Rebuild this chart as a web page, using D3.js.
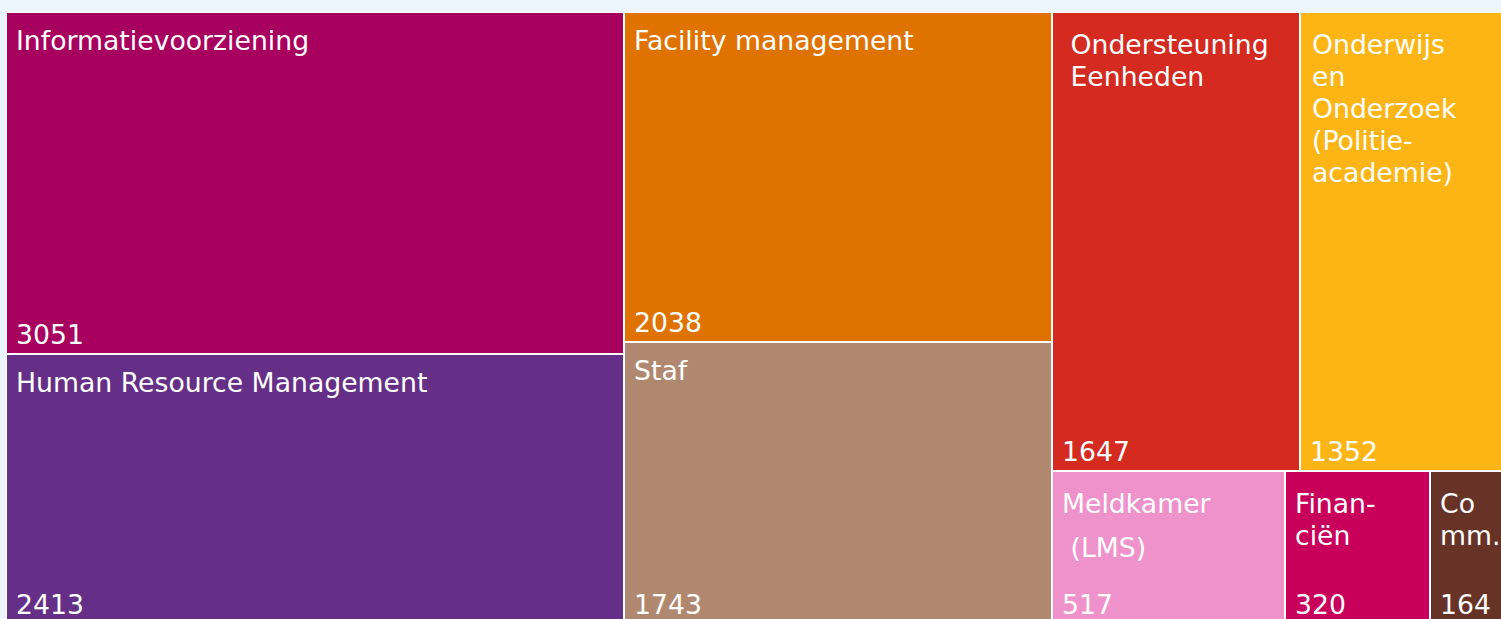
<!DOCTYPE html>
<html>
<head>
<meta charset="utf-8">
<script src="https://cdn.jsdelivr.net/npm/d3@7"></script>
<style>
  html, body { margin: 0; padding: 0; background: #edf5fc; overflow: hidden; }
  svg { display: block; }
  text { font-family: "DejaVu Sans", Verdana, sans-serif; font-size: 26.7px; fill: #fff; }
</style>
</head>
<body>
<svg id="chart" width="1501" height="619"></svg>
<script>
// data (number of fte per onderdeel)
var names = [
  'Informatievoorziening',
  'Human Resource Management',
  'Facility management',
  'Staf',
  'Ondersteuning Eenheden',
  'Onderwijs en Onderzoek (Politieacademie)',
  'Meldkamer (LMS)',
  'Financiën',
  'Communicatie'
];
var values = [3051, 2413, 2038, 1743, 1647, 1352, 517, 320, 164];
// label lines as they wrap in the picture
var labelLines = [
  ['Informatievoorziening'],
  ['Human Resource Management'],
  ['Facility management'],
  ['Staf'],
  [' Ondersteuning', ' Eenheden'],
  ['Onderwijs', 'en', 'Onderzoek', '(Politie-', 'academie)'],
  ['Meldkamer', ' (LMS)'],
  ['Finan-', 'ciën'],
  ['Co', 'mm.']
];
var colors = ['#a8005e', '#652f87', '#e07200', '#b0886f', '#d42a1f', '#fdb515', '#ef91cb', '#c8005b', '#673327'];

var margin = { left: 7, top: 13 },
    width = 1496,
    height = 610;

var svg = d3.select('#chart');

var items = names.map(function(n, i) {
  return { name: n, value: values[i], lines: labelLines[i], color: colors[i] };
});

var root = d3.hierarchy({ children: items })
  .sum(function(d) { return d.value || 0; });

d3.treemap()
  .tile(d3.treemapSquarify)
  .size([width, height])
  .paddingInner(2)
  .round(true)(root);

// thin white frame round the whole block
svg.append('rect')
  .attr('x', margin.left - 1)
  .attr('y', margin.top - 1)
  .attr('width', width + 2)
  .attr('height', height + 2)
  .attr('fill', '#fff');

var g = svg.append('g')
  .attr('transform', 'translate(' + margin.left + ',' + margin.top + ')');

var cell = g.selectAll('g.cell')
  .data(root.leaves())
  .enter().append('g')
  .attr('class', 'cell')
  .attr('transform', function(d) { return 'translate(' + d.x0 + ',' + d.y0 + ')'; });

cell.append('rect')
  .attr('width', function(d) { return d.x1 - d.x0; })
  .attr('height', function(d) { return d.y1 - d.y0; })
  .attr('fill', function(d) { return d.data.color; });

// the Meldkamer label has a wider gap before "(LMS)"
var lineStep = function(d, i) {
  if (d.data.name === 'Meldkamer (LMS)' && i > 0) return 44;
  return 32;
};

cell.each(function(d) {
  var t = d3.select(this).append('text')
    .attr('class', 'name')
    .attr('xml:space', 'preserve');
  var y = 37;
  var extra = d.data.lines.length > 1 ? 4 : 0;
  d.data.lines.forEach(function(line, i) {
    if (i > 0) y += lineStep(d, i);
    t.append('tspan')
      .attr('x', d.data.lines.length > 3 ? 11 : 9)
      .attr('y', y + extra)
      .text(line);
  });
});

cell.append('text')
  .attr('class', 'value')
  .attr('x', 9)
  .attr('y', function(d) { return d.y1 - d.y0 - 9; })
  .text(function(d) { return d.data.value; });
</script>
</body>
</html>
